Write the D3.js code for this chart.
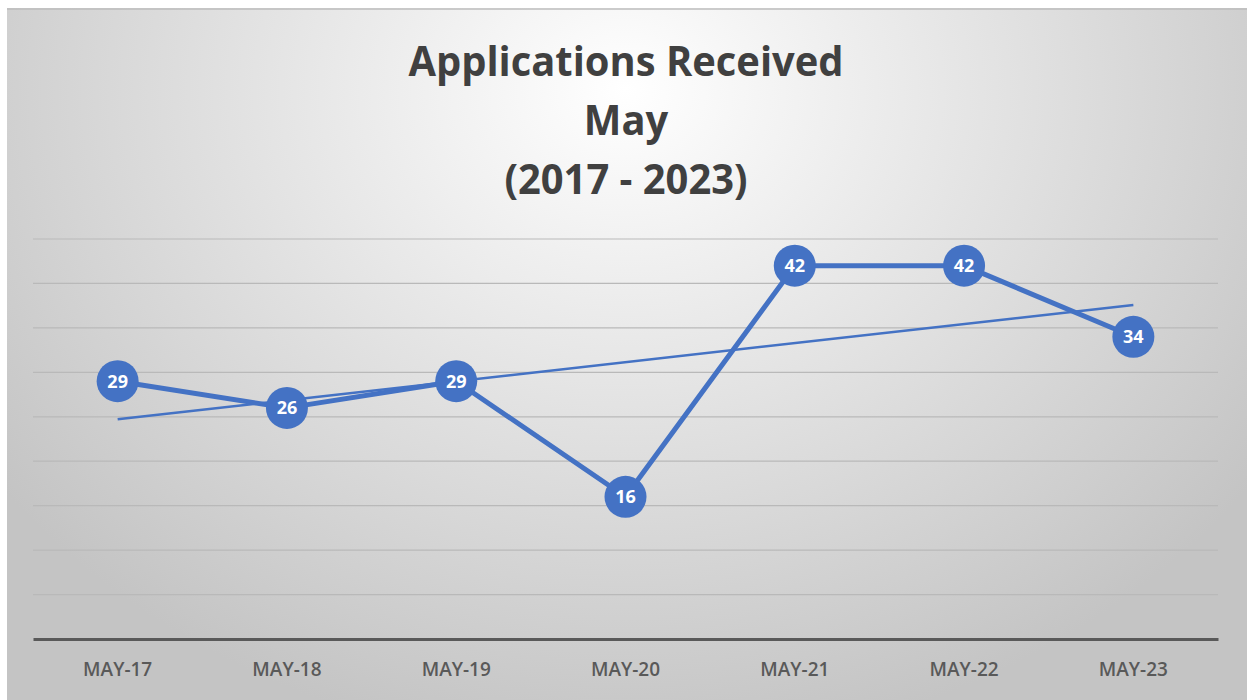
<!DOCTYPE html>
<html lang="en">
<head>
    <meta charset="UTF-8">
    <title>Applications Received May (2017 - 2023)</title>
    <script src="https://d3js.org/d3.v7.min.js"></script>
    <style>
        body {
            margin: 0;
            background: white;
            font-family: 'Open Sans', sans-serif;
        }
        svg { display: block; }
    </style>
</head>
<body>
    <svg width="1247" height="700"></svg>

    <script>
        // data
        const months = ["MAY-17", "MAY-18", "MAY-19", "MAY-20", "MAY-21", "MAY-22", "MAY-23"];
        const applications = [29, 26, 29, 16, 42, 42, 34];
        const yTicks = [0, 5, 10, 15, 20, 25, 30, 35, 40, 45];
        const titleLines = ["Applications Received", "May", "(2017 - 2023)"];

        const svg = d3.select("svg"),
            margin = {top: 239, right: 29, bottom: 61, left: 33},
            width = +svg.attr("width") - margin.left - margin.right,
            height = +svg.attr("height") - margin.top - margin.bottom;

        // background panel with radial gradient
        const defs = svg.append("defs");
        const grad = defs.append("radialGradient")
            .attr("id", "bg")
            .attr("gradientUnits", "userSpaceOnUse")
            .attr("cx", 625).attr("cy", 90)
            .attr("r", 780)
            .attr("gradientTransform", "translate(625,90) scale(1,0.85) translate(-625,-90)");
        grad.append("stop").attr("offset", "0%").attr("stop-color", "#ffffff");
        grad.append("stop").attr("offset", "100%").attr("stop-color", "#c4c4c4");

        svg.append("rect")
            .attr("x", 7).attr("y", 8)
            .attr("width", 1240).attr("height", 692)
            .attr("fill", "url(#bg)");
        svg.append("line")
            .attr("x1", 7).attr("x2", 1247)
            .attr("y1", 9).attr("y2", 9)
            .attr("stroke", "#bdbdbd")
            .attr("stroke-width", 1.5);

        const g = svg.append("g").attr("transform", `translate(${margin.left},${margin.top})`);

        const x = d3.scaleBand()
            .domain(months)
            .range([0, width]);

        const y = d3.scaleLinear()
            .domain([0, 45])
            .range([height, 0]);

        const cx = d => x(d) + x.bandwidth() / 2;

        // gridlines
        g.append("g")
            .selectAll("line")
            .data(yTicks.slice(1))
            .join("line")
            .attr("x1", 0).attr("x2", width)
            .attr("y1", d => y(d)).attr("y2", d => y(d))
            .attr("stroke", "#b9b9b9")
            .attr("stroke-width", 1.2);

        // x axis
        const xAxis = g.append("g")
            .attr("transform", `translate(0,${height})`)
            .call(d3.axisBottom(x).tickSize(0).tickPadding(24));
        xAxis.select(".domain")
            .attr("stroke", "#595959")
            .attr("stroke-width", 3);
        xAxis.selectAll(".tick text")
            .attr("fill", "#595959")
            .style("font-family", "'Open Sans', sans-serif")
            .style("font-weight", "600")
            .style("font-size", "19px");

        // title
        svg.append("g")
            .attr("transform", "translate(626,0) scale(0.95,1)")
            .selectAll("text")
            .data(titleLines)
            .join("text")
            .attr("x", 0)
            .attr("y", (d, i) => 76 + i * 59)
            .attr("text-anchor", "middle")
            .attr("fill", "#404040")
            .style("font-family", "'Open Sans', sans-serif")
            .style("font-weight", "bold")
            .style("font-size", "42px")
            .text(d => d);

        const pts = months.map((m, i) => ({m, i, v: applications[i]}));

        // main series line
        g.append("path")
            .datum(pts)
            .attr("fill", "none")
            .attr("stroke", "#4472c4")
            .attr("stroke-width", 5)
            .attr("stroke-linejoin", "round")
            .attr("d", d3.line().x(d => cx(d.m)).y(d => y(d.v)));

        // linear trendline (least squares)
        const n = pts.length;
        const mx = d3.mean(pts, d => d.i), my = d3.mean(pts, d => d.v);
        const slope = d3.sum(pts, d => (d.i - mx) * (d.v - my)) / d3.sum(pts, d => (d.i - mx) ** 2);
        const trend = [pts[0], pts[n - 1]].map(d => ({m: d.m, v: my + slope * (d.i - mx)}));
        g.append("path")
            .datum(trend)
            .attr("fill", "none")
            .attr("stroke", "#4472c4")
            .attr("stroke-width", 2.5)
            .attr("d", d3.line().x(d => cx(d.m)).y(d => y(d.v)));

        // markers with labels
        const marks = g.append("g")
            .selectAll("g")
            .data(pts)
            .join("g")
            .attr("transform", d => `translate(${cx(d.m)},${y(d.v)})`);
        marks.append("circle")
            .attr("r", 21)
            .attr("fill", "#4472c4");
        marks.append("text")
            .attr("text-anchor", "middle")
            .attr("dy", "0.36em")
            .attr("fill", "white")
            .style("font-family", "'Open Sans', sans-serif")
            .style("font-weight", "bold")
            .style("font-size", "18px")
            .text(d => d.v);
    </script>
</body>
</html>
